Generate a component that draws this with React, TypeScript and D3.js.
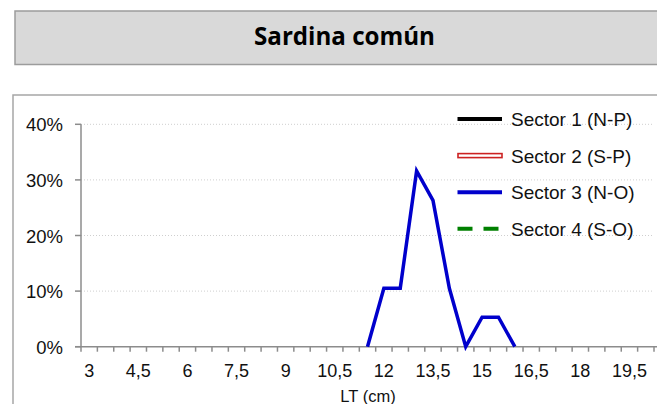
import React from 'react'
import * as d3 from 'd3'

// talla (LT, cm) en intervalos de 0,5
const lengths = [3, 3.5, 4, 4.5, 5, 5.5, 6, 6.5, 7, 7.5, 8, 8.5, 9, 9.5, 10, 10.5, 11, 11.5,
    12, 12.5, 13, 13.5, 14, 14.5, 15, 15.5, 16, 16.5, 17, 17.5, 18, 18.5, 19, 19.5, 20]
const tickLabels = [3, 4.5, 6, 7.5, 9, 10.5, 12, 13.5, 15, 16.5, 18, 19.5]
const yTicks = [0, 0.1, 0.2, 0.3, 0.4]

// sólo el sector 3 tiene datos
const sector1: [number, number][] = []
const sector2: [number, number][] = []
const sector3: [number, number][] = [
    [11.5, 0], [12, 0.105], [12.5, 0.105], [13, 0.316], [13.5, 0.263],
    [14, 0.105], [14.5, 0], [15, 0.053], [15.5, 0.053], [16, 0],
]
const sector4: [number, number][] = []

const seriesNames = ['Sector 1 (N-P)', 'Sector 2 (S-P)', 'Sector 3 (N-O)', 'Sector 4 (S-O)']

const FONT = '"Liberation Sans", Arial, sans-serif'

const App = () => {
    const left = 81, right = 654, top = 124.3, bottom = 346.7

    const x = d3.scaleBand<number>()
        .domain(lengths)
        .range([left, right])
        .padding(0)
    const y = d3.scaleLinear().domain([0, 0.4]).range([bottom, top])

    const cx = (v: number) => x(v)! + x.bandwidth() / 2
    const line = d3.line<[number, number]>()
        .x(d => cx(d[0]))
        .y(d => y(d[1]))

    const fmt = (v: number) => String(v).replace('.', ',')
    const boundaries = lengths.map(v => x(v)!).concat([right])

    const legendY = (i: number) => 119 + i * 36.6

    return (
        <svg width={657} height={404} style={{ position: 'absolute', left: 0, top: 0 }}>
            <rect x={15} y={11} width={700} height={53.5} fill="#d9d9d9" stroke="#9c9c9c" strokeWidth={1.5} />
            <text x={254} y={44.5} textLength={181} lengthAdjust="spacingAndGlyphs"
                fontFamily='"Open Sans", sans-serif' fontWeight="bold" fontSize={25} fill="#000">
                Sardina común
            </text>

            <rect x={13} y={95} width={700} height={400} fill="#fff" stroke="#a6a6a6" strokeWidth={1.5} />

            {/* grid */}
            {yTicks.filter(t => t > 0).map(t => (
                <line key={t} x1={left} x2={right} y1={y(t)} y2={y(t)}
                    stroke="#cfcfcf" strokeWidth={1} strokeDasharray="1,2" />
            ))}

            {/* y axis */}
            <line x1={left} x2={left} y1={top} y2={bottom} stroke="#8c8c8c" strokeWidth={1.5} />
            {yTicks.map(t => (
                <g key={t}>
                    <line x1={left - 6} x2={left} y1={y(t)} y2={y(t)} stroke="#8c8c8c" strokeWidth={1.5} />
                    <text x={63} y={y(t) + 7} textAnchor="end" fontFamily={FONT} fontSize={18.5} fill="#111">
                        {d3.format('.0%')(t)}
                    </text>
                </g>
            ))}

            {/* x axis */}
            <line x1={left - 6} x2={657} y1={bottom} y2={bottom} stroke="#8c8c8c" strokeWidth={1.5} />
            {boundaries.map((b, i) => (
                <line key={i} x1={b} x2={b} y1={bottom} y2={bottom + 5} stroke="#8c8c8c" strokeWidth={1.5} />
            ))}
            {tickLabels.map(t => (
                <text key={t} x={cx(t)} y={377} textAnchor="middle" fontFamily={FONT} fontSize={18} fill="#111">
                    {fmt(t)}
                </text>
            ))}
            <text x={368} y={402} textAnchor="middle" fontFamily={FONT} fontSize={16.5} fill="#111">LT (cm)</text>

            {/* series */}
            {sector1.length > 0 && <path d={line(sector1)!} fill="none" stroke="#000" strokeWidth={3.5} />}
            {sector2.length > 0 && <path d={line(sector2)!} fill="none" stroke="#cc2222" strokeWidth={3.5} />}
            <path d={line(sector3)!} fill="none" stroke="#0000cc" strokeWidth={3.5} strokeLinejoin="miter" />
            {sector4.length > 0 && <path d={line(sector4)!} fill="none" stroke="#008000" strokeWidth={3.5} strokeDasharray="10,8" />}

            {/* legend */}
            <line x1={457.5} x2={502} y1={legendY(0)} y2={legendY(0)} stroke="#000" strokeWidth={4} />
            <rect x={458} y={legendY(1) - 2} width={44} height={4} fill="#fff" stroke="#cc2222" strokeWidth={1.6} />
            <line x1={457.5} x2={502} y1={legendY(2)} y2={legendY(2)} stroke="#0000cc" strokeWidth={4} />
            <line x1={457.5} x2={502} y1={legendY(3)} y2={legendY(3)} stroke="#008000" strokeWidth={4}
                strokeDasharray="15,11" />
            {seriesNames.map((s, i) => (
                <text key={s} x={511} y={legendY(i) + 7} fontFamily={FONT} fontSize={19} fill="#111">{s}</text>
            ))}
        </svg>
    )
}

export default App
